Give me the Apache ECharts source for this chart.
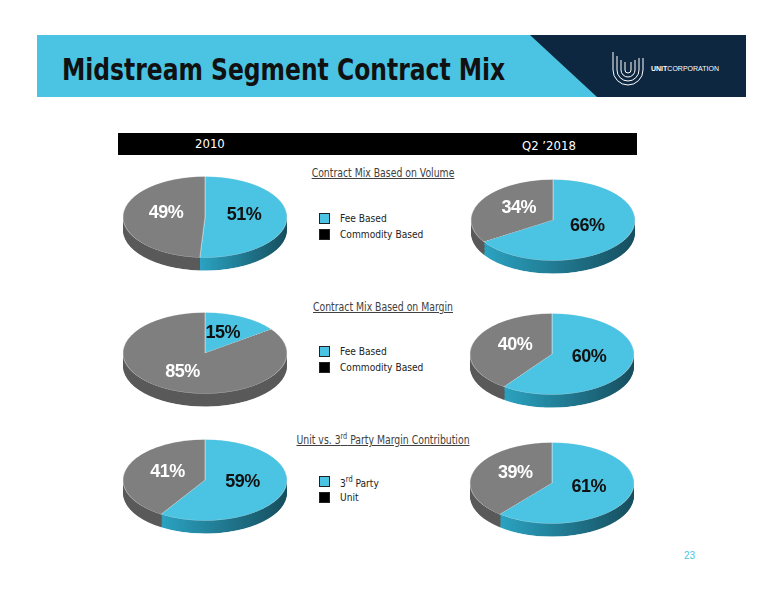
<!DOCTYPE html>
<html><head><meta charset="utf-8">
<script src="https://cdn.jsdelivr.net/npm/echarts@6/dist/echarts.min.js"></script>
<style>
body{margin:0;width:776px;height:600px;background:#fff;position:relative;overflow:hidden;font-family:"Liberation Sans Narrow","DejaVu Sans Condensed",Arial,sans-serif}
.abs{position:absolute}
.sub{color:#404040;font-size:11.5px;text-decoration:underline;white-space:nowrap;transform:translateX(-50%) scaleX(0.9)}
.lg{font-size:11px;color:#222;white-space:nowrap;transform:scaleX(0.92);transform-origin:0 0}
.sq{width:11px;height:11px;border:1px solid #222;box-sizing:border-box}
.lbl{font-size:18px;font-weight:bold;transform:translate(-50%,-50%);white-space:nowrap;font-family:Arial,"Liberation Sans",sans-serif;letter-spacing:-0.5px}
</style></head><body>
<div class="abs" style="left:37px;top:35px;width:709px;height:62px;background:#4bc4e3"></div>
<svg class="abs" style="left:0;top:0" width="776" height="120"><polygon points="530,35 746,35 746,97 597,97" fill="#0e2741"/>
<g fill="none" stroke="#fff" stroke-width="1"><path d="M613,52 V70 a15,15 0 0 0 30,0 V58"/><path d="M617,56 V70 a11,11 0 0 0 22,0 V58"/><path d="M621,60 V70 a7,7 0 0 0 14,0 V60"/><path d="M625,62 V70 a3,3 0 0 0 6,0 V62"/></g></svg>
<div class="abs" style="left:62px;top:51px;font-size:31px;font-weight:bold;color:#111;white-space:nowrap;transform:scaleX(0.84);transform-origin:0 0">Midstream Segment Contract Mix</div>
<div class="abs" style="left:651px;top:65px;font-size:7px;color:#fff;font-family:Arial"><b>UNIT</b>CORPORATION</div>
<div class="abs" style="left:118px;top:133px;width:519px;height:22px;background:#000"></div>
<div class="abs" style="left:195px;top:136px;color:#fff;font-size:13px">2010</div>
<div class="abs" style="left:522px;top:138px;color:#fff;font-size:13px">Q2 ’2018</div>
<div class="abs" style="left:684px;top:550px;color:#4bc4e3;font-size:10px;font-family:Arial">23</div>
<div id="root"></div>
<script>
const periods=['2010',"Q2 '2018"];
const sections=['Contract Mix Based on Volume','Contract Mix Based on Margin','Unit vs. 3<sup style="font-size:8px">rd</sup> Party Margin Contribution'];
const legendA=['Fee Based','Fee Based','3<sup style="font-size:8px">rd</sup> Party'];
const legendB=['Commodity Based','Commodity Based','Unit'];
const cyanShare2010=[51,15,59];
const cyanShare2018=[66,60,61];
const grayShare2010=[49,85,41];
const grayShare2018=[34,40,39];
const sectionTitleY=[166,300,432];
const legendY=[213,346,476];
const pieBoxes=[[[205,217],[553,220]],[[205,353],[552,354]],[[205,480],[552,483]]];
const RX=83,RY=41,DEPTH=13;
const root=document.getElementById('root');
function add(html,cls,style){const d=document.createElement('div');d.className='abs '+cls;d.style.cssText=style;d.innerHTML=html;root.appendChild(d);return d;}
sections.forEach((s,i)=>{
  add(s,'sub',`left:383px;top:${sectionTitleY[i]}px`);
  add('','sq',`left:319px;top:${legendY[i]}px;background:#4bc4e3`);
  add('','sq',`left:319px;top:${legendY[i]+16}px;background:#000`);
  add(legendA[i],'lg',`left:340px;top:${legendY[i]-1}px`);
  add(legendB[i],'lg',`left:340px;top:${legendY[i]+15}px`);
  [[cyanShare2010[i],grayShare2010[i]],[cyanShare2018[i],grayShare2018[i]]].forEach((vals,p)=>{
    const [cx,cy]=pieBoxes[i][p];
    const k=RY/RX, dd=DEPTH/k;
    const div=add('','',`left:${cx-RX}px;top:${cy-RY}px;width:${2*RX}px;height:${2*RX+dd+2}px;transform:scaleY(${k});transform-origin:0 0`);
    const chart=echarts.init(div,null,{renderer:'canvas'});
    const series=[];
    const layers=10;
    for(let L=layers;L>=1;L--){
      series.push({type:'pie',silent:true,animation:false,radius:[0,RX-1],center:[RX,RX+dd*L/layers],startAngle:90,clockwise:true,label:{show:false},
        itemStyle:{borderWidth:0},
        data:[{value:vals[0],itemStyle:{color:new echarts.graphic.LinearGradient(0,0,1,0,[{offset:0,color:'#2ba3c2'},{offset:1,color:'#164e5e'}])}},
              {value:vals[1],itemStyle:{color:'#5a5a5a'}}]});
    }
    series.push({type:'pie',silent:true,animation:false,radius:[0,RX-1],center:[RX,RX],startAngle:90,clockwise:true,label:{show:false},
      itemStyle:{borderWidth:0.5,borderColor:'#eee'},
      data:[{value:vals[0],itemStyle:{color:'#4bc4e3'}},{value:vals[1],itemStyle:{color:'#7f7f7f'}}]});
    chart.setOption({series});
    const tot=vals[0]+vals[1];
    let acc=0;
    vals.forEach((v,j)=>{
      const mid=(acc+v/2)/tot*2*Math.PI; acc+=v;
      const f=v>75?0.6:0.47;
      const x=cx+f*RX*Math.sin(mid), y=cy-f*RY*Math.cos(mid)-4;
      add(v+'%','lbl',`left:${x}px;top:${y}px;color:${j===0?'#111':'#fff'}`);
    });
  });
});
</script>
</body></html>
